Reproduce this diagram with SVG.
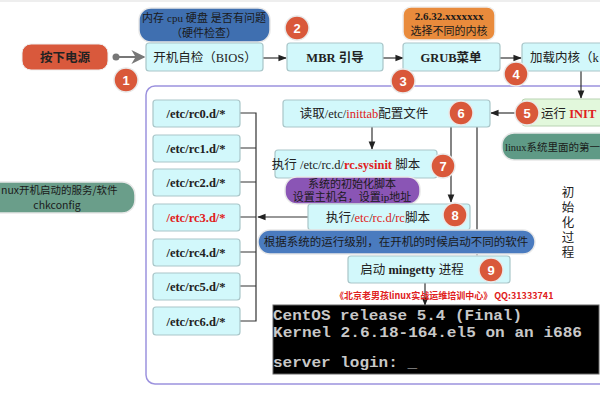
<svg xmlns="http://www.w3.org/2000/svg" width="600" height="400" viewBox="0 0 600 400">
<defs>
<marker id="ah" viewBox="0 0 10 10" refX="9" refY="5" markerWidth="7" markerHeight="7" orient="auto"><path d="M0,1 L10,5 L0,9 z" fill="#222"/></marker>
<marker id="ahg" viewBox="0 0 10 10" refX="9" refY="5" markerWidth="7" markerHeight="7" orient="auto"><path d="M0,0 L10,5 L0,10 L3,5 z" fill="#777"/></marker>
<style>
.box{fill:#d2f8fb;stroke:#a9c6c9;stroke-width:1.2}
.t{font-family:"Liberation Serif","Noto Sans CJK SC",serif;font-size:12.5px;fill:#222;text-anchor:middle;font-weight:bold}
.tn{font-family:"Liberation Serif","Noto Sans CJK SC",serif;font-size:12.5px;fill:#222;text-anchor:middle}
.r{fill:#e02020}
.num{fill:#d9583a;stroke:#e9e9e9;stroke-width:1.5}
.nt{font-family:"Liberation Sans",sans-serif;font-size:13px;fill:#fff;text-anchor:middle;font-weight:bold}
.ln{stroke:#333;stroke-width:1.2;fill:none}
.bub{font-family:"Liberation Serif","Noto Sans CJK SC",sans-serif;font-size:11px;fill:#1a1a1a;text-anchor:middle}
.term{font-family:"Liberation Mono","DejaVu Sans Mono",monospace;font-size:15px;fill:#c8c8c8;font-weight:bold}
</style>
</defs>
<rect width="600" height="400" fill="#fff"/>
<line x1="0" y1="1" x2="600" y2="1" stroke="#ddd"/>
<rect id="frame" x="146" y="86" width="470" height="298" rx="9" fill="none" stroke="#9c92de" stroke-width="1.5"/>

<g id="connectors">
<circle cx="116" cy="57" r="3.5" fill="#777"/>
<line x1="116" y1="57" x2="144" y2="57" stroke="#777" stroke-width="2" marker-end="url(#ahg)"/>
<line class="ln" x1="263" y1="58" x2="286" y2="58" marker-end="url(#ah)"/>
<line class="ln" x1="383" y1="58" x2="403" y2="58" marker-end="url(#ah)"/>
<line class="ln" x1="500" y1="58" x2="521" y2="58" marker-end="url(#ah)"/>
<line class="ln" x1="581" y1="71" x2="581" y2="98" marker-end="url(#ah)"/>
<line class="ln" x1="522" y1="113" x2="491" y2="113" marker-end="url(#ah)"/>
<line class="ln" x1="372" y1="127" x2="372" y2="149" marker-end="url(#ah)"/>
<line class="ln" x1="451" y1="127" x2="451" y2="202" marker-end="url(#ah)"/>
<line class="ln" x1="477" y1="127" x2="477" y2="255" marker-end="url(#ah)"/>
<line class="ln" x1="425" y1="283" x2="425" y2="305" marker-end="url(#ah)"/>
<line class="ln" x1="309" y1="217" x2="258" y2="217" marker-end="url(#ah)"/>
<path class="ln" stroke="#555" d="M240,113H256V321H240M240,148H256M240,182H256M240,217H256M240,252H256M240,286H256"/>
</g>

<g id="power"><rect x="22" y="44" width="86" height="26" rx="9" fill="#d9593c" stroke="#eee"/><text class="t" x="65" y="62">按下电源</text></g>
<g id="hw-note"><rect x="139" y="8" width="131" height="34" rx="12" fill="#3f6fb0" stroke="#e8e8e8" stroke-width="1.5"/><text class="bub" x="204" y="22" textLength="124" lengthAdjust="spacing">内存 cpu 硬盘 是否有问题</text><text class="bub" x="204" y="37">（硬件检查）</text></g>
<g id="bios"><rect class="box" x="146" y="43" width="117" height="28" rx="3"/><text class="tn" x="205" y="62">开机自检（BIOS）</text></g>
<g id="mbr"><rect class="box" x="287" y="43" width="96" height="28" rx="3"/><text class="t" x="335" y="62">MBR 引导</text></g>
<g id="kernel-note"><rect x="403" y="7" width="92" height="33" rx="8" fill="#e98b3c" stroke="#eee" stroke-width="1.5"/><text class="bub" x="449" y="20" font-weight="bold">2.6.32.xxxxxxx</text><text class="bub" x="449" y="35">选择不同的内核</text></g>
<g id="grub"><rect class="box" x="403" y="43" width="97" height="28" rx="3"/><text class="t" x="451" y="62">GRUB菜单</text></g>
<g id="load-kernel"><rect class="box" x="522" y="43" width="90" height="28" rx="3"/><text class="tn" x="530" y="62" style="text-anchor:start">加载内核（k</text></g>

<g id="init"><rect x="522" y="99" width="90" height="27" rx="3" fill="#e2f8dc" stroke="#b9d3b2"/><text class="tn" x="541" y="118" style="text-anchor:start">运行 <tspan class="r" font-weight="bold">INIT</tspan></text></g>
<g id="first-note"><rect x="502" y="133" width="110" height="27" rx="12" fill="#5f9a86" stroke="#e8e8e8" stroke-width="1.5"/><text class="bub" x="505" y="151" style="text-anchor:start;font-size:10.5px">linux系统里面的第一</text></g>
<g id="chk-note"><rect x="-20" y="182" width="155" height="31" rx="13" fill="#6a9e8a" stroke="#e8e8e8" stroke-width="1.5"/><text class="bub" x="1" y="194" style="text-anchor:start;font-family:'Noto Sans CJK SC',sans-serif;font-size:10.5px">nux开机启动的服务/软件</text><text class="bub" x="57" y="209" style="font-family:'Noto Sans CJK SC',sans-serif;font-size:10.5px">chkconfig</text></g>

<g id="inittab"><rect class="box" x="283" y="100" width="207" height="27" rx="3"/><text class="tn" x="364" y="118">读取/etc/<tspan class="r">inittab</tspan>配置文件</text></g>
<g id="sysinit"><rect class="box" x="275" y="150" width="162" height="28" rx="3"/><text class="tn" x="346" y="169">执行 /etc/rc.d/<tspan class="r" font-weight="bold">rc.sysinit</tspan> 脚本</text></g>
<g id="sysinit-note"><rect x="285" y="177" width="135" height="27" rx="12" fill="#8a55b5" stroke="#e8e8e8" stroke-width="1.5"/><text class="bub" x="352" y="188">系统的初始化脚本</text><text class="bub" x="352" y="201">设置主机名，设置ip地址</text></g>
<g id="rc"><rect class="box" x="308" y="204" width="162" height="26" rx="3"/><text class="tn" x="378" y="222">执行/<tspan class="r">etc</tspan>/<tspan class="r">rc.d</tspan>/<tspan class="r">rc</tspan>脚本</text></g>
<g id="level-note"><rect x="258" y="230" width="277" height="24" rx="12" fill="#4a7bbf" stroke="#e8e8e8" stroke-width="1.5"/><text class="bub" x="396" y="246" style="font-size:11.5px">根据系统的运行级别，在开机的时候启动不同的软件</text></g>
<g id="mingetty"><rect class="box" x="348" y="256" width="162" height="27" rx="3"/><text class="tn" x="412" y="274">启动 <tspan font-weight="bold">mingetty</tspan> 进程</text></g>

<g id="rc0"><rect class="box" x="153" y="100" width="87" height="27" rx="3"/><text class="t" x="196" y="118">/etc/rc0.d/*</text></g>
<g id="rc1"><rect class="box" x="153" y="135" width="87" height="27" rx="3"/><text class="t" x="196" y="153">/etc/rc1.d/*</text></g>
<g id="rc2"><rect class="box" x="153" y="169" width="87" height="27" rx="3"/><text class="t" x="196" y="187">/etc/rc2.d/*</text></g>
<g id="rc3"><rect class="box" x="153" y="204" width="87" height="27" rx="3"/><text class="t" x="196" y="222" style="fill:#e02020">/etc/rc3.d/*</text></g>
<g id="rc4"><rect class="box" x="153" y="239" width="87" height="27" rx="3"/><text class="t" x="196" y="257">/etc/rc4.d/*</text></g>
<g id="rc5"><rect class="box" x="153" y="273" width="87" height="27" rx="3"/><text class="t" x="196" y="291">/etc/rc5.d/*</text></g>
<g id="rc6"><rect class="box" x="153" y="307" width="87" height="28" rx="3"/><text class="t" x="196" y="326">/etc/rc6.d/*</text></g>

<g id="nums">
<circle class="num" cx="126" cy="80" r="12"/><text class="nt" x="126" y="85">1</text>
<circle class="num" cx="297" cy="28" r="12"/><text class="nt" x="297" y="33">2</text>
<circle class="num" cx="403" cy="81" r="12"/><text class="nt" x="403" y="86">3</text>
<circle class="num" cx="516" cy="74" r="12"/><text class="nt" x="516" y="79">4</text>
<circle class="num" cx="527" cy="113" r="12"/><text class="nt" x="527" y="118">5</text>
<circle class="num" cx="461" cy="113" r="12"/><text class="nt" x="461" y="118">6</text>
<circle class="num" cx="443" cy="166" r="12"/><text class="nt" x="443" y="171">7</text>
<circle class="num" cx="455" cy="215" r="12"/><text class="nt" x="455" y="220">8</text>
<circle class="num" cx="491" cy="270" r="12"/><text class="nt" x="491" y="275">9</text>
</g>

<g id="vertical-label" font-family="'Liberation Serif','Noto Sans CJK SC',serif" font-size="12.5" fill="#222" text-anchor="middle">
<text x="568" y="197">初</text><text x="568" y="212">始</text><text x="568" y="227">化</text><text x="568" y="242">过</text><text x="568" y="257">程</text>
</g>

<text x="335" y="299" font-family="'Noto Sans CJK SC',sans-serif" font-size="9" font-weight="bold" fill="#e02020">《北京老男孩linux实战运维培训中心》  QQ:31333741</text>

<g id="terminal">
<rect x="273" y="305" width="326" height="69" fill="#000" stroke="#666"/>
<text class="term" x="273" y="320" textLength="249" lengthAdjust="spacingAndGlyphs">CentOS release 5.4 (Final)</text>
<text class="term" x="273" y="337" textLength="309" lengthAdjust="spacingAndGlyphs">Kernel 2.6.18-164.el5 on an i686</text>
<text class="term" x="273" y="367" textLength="144" lengthAdjust="spacingAndGlyphs">server login: _</text>
</g>
</svg>
